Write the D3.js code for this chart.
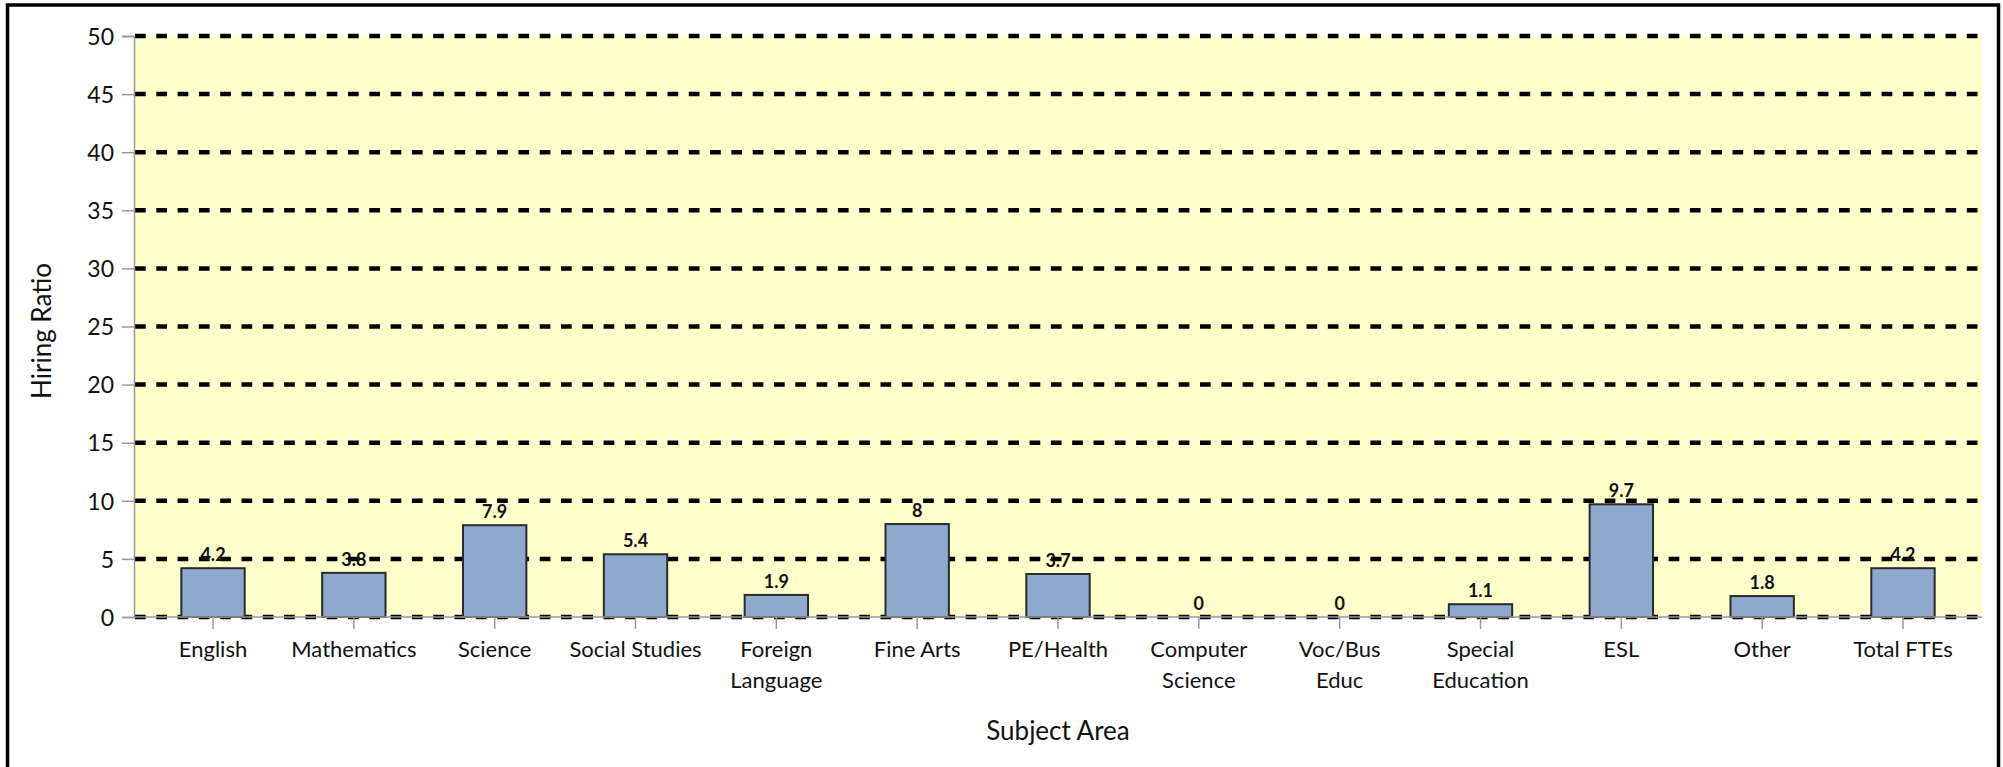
<!DOCTYPE html>
<html>
<head>
<meta charset="utf-8">
<script src="https://cdn.jsdelivr.net/npm/d3@7"></script>
<style>
  body { margin: 0; background: #fff; }
  text { font-family: Lato, "Open Sans", sans-serif; fill: #111; }
</style>
</head>
<body>
<div id="chart-container"></div>
<script>
var subjects = ['English', 'Mathematics', 'Science', 'Social Studies', 'Foreign\nLanguage', 'Fine Arts', 'PE/Health',
  'Computer\nScience', 'Voc/Bus\nEduc', 'Special\nEducation', 'ESL', 'Other', 'Total FTEs']
var ratios = [4.2, 3.8, 7.9, 5.4, 1.9, 8, 3.7, 0, 0, 1.1, 9.7, 1.8, 4.2]
var yTicks = [0, 5, 10, 15, 20, 25, 30, 35, 40, 45, 50]

var width = 2003, height = 767
var plotL = 134, plotR = 1982, plotT = 36, plotB = 617

var svg = d3.select("#chart-container").append("svg").attr('width', width).attr('height', height)

// outer frame
svg.append('rect').attr('x', 7.5).attr('y', 5).attr('width', 1991).attr('height', 790)
  .attr('fill', 'none').attr('stroke', '#000').attr('stroke-width', 3.5)

var x = d3.scaleBand().domain(subjects).range([plotL, plotR]).paddingInner(0.55).paddingOuter(0.336)
var y = d3.scaleLinear().domain([0, 50]).range([plotB, plotT])

// plot background
svg.append('rect').attr('x', plotL).attr('y', y(50)).attr('width', plotR - plotL).attr('height', y(0) - y(50)).attr('fill', '#ffffcc')

// dashed grid
svg.selectAll('.grid').data(yTicks).enter().append('line').attr('class', 'grid')
  .attr('x1', plotL + 1).attr('x2', plotR)
  .attr('y1', function(d) { return y(d) }).attr('y2', function(d) { return y(d) })
  .attr('stroke', '#000').attr('stroke-width', 4.5).attr('stroke-dasharray', '10.7,10.6')

// bars
svg.selectAll('.bar').data(ratios).enter().append('rect').attr('class', 'bar')
  .attr('x', function(d, i) { return x(subjects[i]) })
  .attr('y', function(d) { return y(d) })
  .attr('width', x.bandwidth())
  .attr('height', function(d) { return y(0) - y(d) })
  .attr('fill', '#8ea8ce').attr('stroke', '#2a2a2a').attr('stroke-width', 2)

// bar labels
svg.selectAll('.lbl').data(ratios).enter().append('text').attr('class', 'lbl')
  .attr('x', function(d, i) { return x(subjects[i]) + x.bandwidth() / 2 })
  .attr('y', function(d) { return y(d) - 7 })
  .attr('text-anchor', 'middle').style('font-size', '18px').style('font-weight', 'bold')
  .text(function(d) { return d })

// y axis
var yAxis = svg.append('g').attr('transform', 'translate(' + plotL + ',0)')
  .call(d3.axisLeft(y).tickValues(yTicks).tickSize(12).tickPadding(8))
yAxis.select('.domain').attr('stroke', '#999').attr('stroke-width', 1.5)
yAxis.selectAll('.tick line').attr('stroke', '#999').attr('stroke-width', 1.5)
yAxis.selectAll('.tick text').style('font-size', '23px').attr('dy', '0.36em')
  .style('font-family', 'Lato, sans-serif').attr('fill', '#111')

// x axis
var xAxis = svg.append('g').attr('transform', 'translate(0,' + plotB + ')')
  .call(d3.axisBottom(x).tickSize(12).tickSizeOuter(0).tickFormat(''))
xAxis.select('.domain').attr('stroke', '#999').attr('stroke-width', 1.5).attr('d', 'M' + plotL + ',0H' + plotR)
xAxis.selectAll('.tick line').attr('stroke', '#999').attr('stroke-width', 1.5)

subjects.forEach(function(s) {
  var t = svg.append('text').attr('text-anchor', 'middle').style('font-size', '22px')
    .attr('transform', 'translate(' + (x(s) + x.bandwidth() / 2) + ',657)')
  s.split('\n').forEach(function(line, k) {
    t.append('tspan').attr('x', 0).attr('y', k * 31).text(line)
  })
})

// axis titles
svg.append('text').attr('x', (plotL + plotR) / 2).attr('y', 740).attr('text-anchor', 'middle')
  .style('font-size', '26px').text('Subject Area')
svg.append('text').attr('transform', 'translate(51,331) rotate(-90)').attr('text-anchor', 'middle')
  .style('font-size', '26px').text('Hiring Ratio')
</script>
</body>
</html>
